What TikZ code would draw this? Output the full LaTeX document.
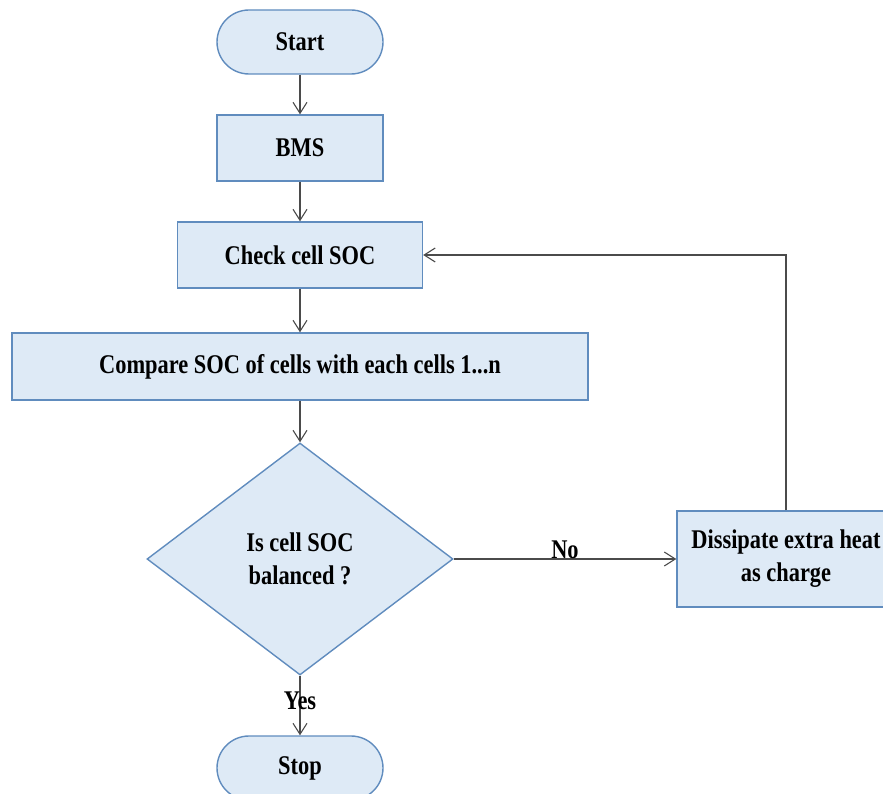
\documentclass[tikz,border=0pt]{standalone}
\usepackage{fontspec}
\setmainfont{Liberation Serif}[FakeStretch=0.83]
\usetikzlibrary{shapes.geometric,arrows.meta}
\definecolor{boxfill}{RGB}{222,234,246}
\definecolor{boxline}{RGB}{96,140,190}
\definecolor{flowline}{RGB}{75,75,75}
\begin{document}
\begin{tikzpicture}[x=1pt,y=-1pt,
  every node/.style={font=\fontsize{27}{33}\selectfont\bfseries, text=black},
  base/.style={draw=boxline, fill=boxfill, line width=1.4pt, inner sep=0pt, align=center},
  terminal/.style={base, rectangle, rounded corners=32pt, minimum width=166pt, minimum height=64pt},
  process/.style={base, rectangle, minimum height=66pt},
  decision/.style={base, diamond, minimum width=306pt, minimum height=232pt},
  flow/.style={draw=flowline, line width=1.3pt, -{Straight Barb[length=11pt,width=14pt,line width=1.1pt]}},
  lbl/.style={inner sep=1pt}
]
\useasboundingbox (0,0) rectangle (883,794);
\clip (0,0) rectangle (883,794);

\node[terminal] (start) at (300,42) {Start};
\node[process, minimum width=166pt] (bms) at (300,148) {BMS};
\node[process, minimum width=245pt] (check) at (300,255) {Check cell SOC};
\node[process, minimum width=576pt, minimum height=67pt] (compare) at (300,366.5) {Compare SOC of cells with each cells 1...n};
\node[decision] (decide) at (300,559) {Is cell SOC\\balanced ?};
\node[process, minimum width=218pt, minimum height=96pt] (dissipate) at (786,559) {Dissipate extra heat\\as charge};
\node[terminal] (stop) at (300,768) {Stop};

\draw[flow] (start) -- (bms);
\draw[flow] (bms) -- (check);
\draw[flow] (check) -- (compare);
\draw[flow] (compare) -- (decide);
\draw[flow] (decide) -- node[lbl, pos=0.42] {Yes} (stop);
\draw[flow] (decide) -- node[lbl, above, pos=0.5, yshift=-1pt] {No} (dissipate);
\draw[flow] (dissipate.north) |- (check.east);
\end{tikzpicture}
\end{document}
